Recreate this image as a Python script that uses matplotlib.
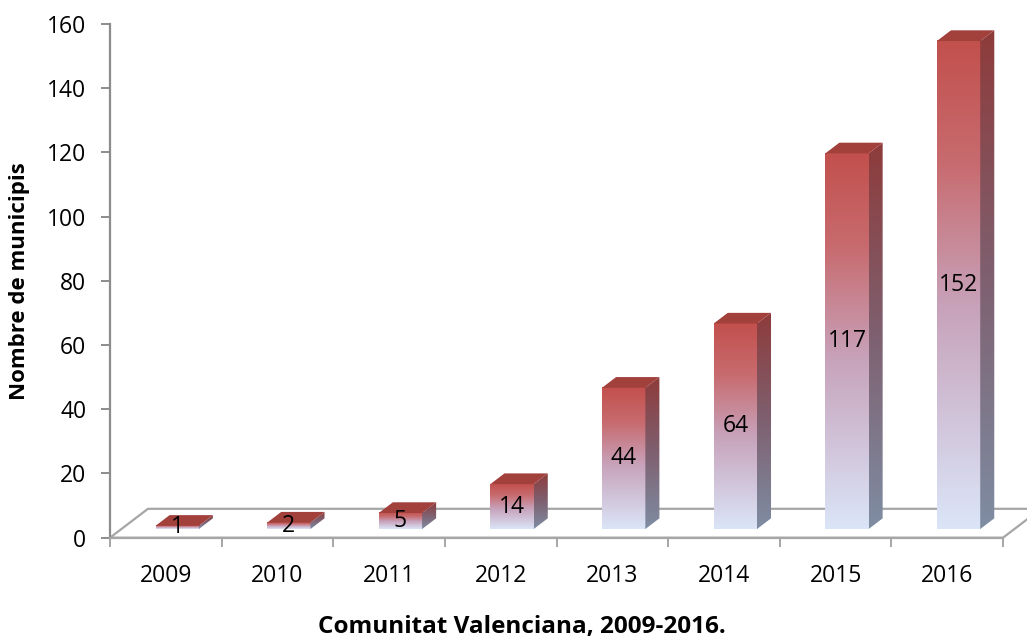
import numpy as np
import matplotlib
matplotlib.use("Agg")
import matplotlib.pyplot as plt
from matplotlib.patches import Polygon
from matplotlib.colors import LinearSegmentedColormap

# Data
years = ["2009", "2010", "2011", "2012", "2013", "2014", "2015", "2016"]
municipis = [1, 2, 5, 14, 44, 64, 117, 152]
y_ticks = [0, 20, 40, 60, 80, 100, 120, 140, 160]

plt.rcParams["font.family"] = ["Open Sans", "DejaVu Sans"]

W_PX, H_PX, DPI = 1027, 640, 100
fig = plt.figure(figsize=(W_PX / DPI, H_PX / DPI), dpi=DPI)
fig.patch.set_facecolor("white")

ax_left, ax_right = 110, 1003
ax_top, ax_bottom = 24, 537.7
ax = fig.add_axes([ax_left / W_PX, (H_PX - ax_bottom) / H_PX,
                   (ax_right - ax_left) / W_PX, (ax_bottom - ax_top) / H_PX])

n = len(years)
XMIN, XMAX, YMIN, YMAX = -0.5, n - 0.5, 0, 160

# oblique projection of the depth axis (in data units)
DX, DY = 0.34, 9.0           # full floor depth
F0, F1 = 0.30, 0.67          # front / back of the bars along the depth
BAR_W = 0.388

grey = "#8c8c8c"
floor_grey = "#a6a6a6"

# floor
floor = Polygon([(XMIN, 0), (XMAX, 0), (XMAX + DX, DY), (XMIN + DX, DY)],
                closed=True, facecolor="white", edgecolor=floor_grey,
                linewidth=1.6, clip_on=False, zorder=1)
ax.add_patch(floor)

front_cmap = LinearSegmentedColormap.from_list(
    "front", [(0.0, "#dbe5f8"), (0.45, "#c7a3bb"), (0.75, "#c86b6f"), (1.0, "#c2504d")])
side_cmap = LinearSegmentedColormap.from_list(
    "side", [(0.0, "#7f8da3"), (0.5, "#7e6070"), (1.0, "#8e3b3a")])
top_color = "#a2403c"

grad = np.linspace(0, 1, 256).reshape(-1, 1)

for i, v in enumerate(municipis):
    x0 = i - BAR_W / 2 + F0 * DX
    y0 = F0 * DY
    bx = (F1 - F0) * DX
    by = (F1 - F0) * DY
    z = 3 + i * 0.01

    # front face
    ax.imshow(grad, cmap=front_cmap, origin="lower", aspect="auto",
              extent=(x0, x0 + BAR_W, y0, y0 + v), interpolation="bilinear",
              zorder=z)

    # side face
    side = Polygon([(x0 + BAR_W, y0), (x0 + BAR_W + bx, y0 + by),
                    (x0 + BAR_W + bx, y0 + v + by), (x0 + BAR_W, y0 + v)],
                   closed=True, facecolor="none", edgecolor="none")
    ax.add_patch(side)
    im = ax.imshow(grad, cmap=side_cmap, origin="lower", aspect="auto",
                   extent=(x0 + BAR_W, x0 + BAR_W + bx, y0, y0 + v + by),
                   interpolation="bilinear", zorder=z)
    im.set_clip_path(side)

    # top face
    top = Polygon([(x0, y0 + v), (x0 + BAR_W, y0 + v),
                   (x0 + BAR_W + bx, y0 + v + by), (x0 + bx, y0 + v + by)],
                  closed=True, facecolor=top_color, edgecolor="none", zorder=z)
    ax.add_patch(top)

    # value label on the front face
    ax.text(x0 + BAR_W / 2, y0 + v / 2, str(v), ha="center", va="center",
            fontsize=16.5, color="black", zorder=10)

ax.set_xlim(XMIN, XMAX)
ax.set_ylim(YMIN, YMAX)

for s in ["top", "right"]:
    ax.spines[s].set_visible(False)
for s in ["left", "bottom"]:
    ax.spines[s].set_color(grey)
    ax.spines[s].set_linewidth(1.6)
ax.spines["bottom"].set_color(floor_grey)

ax.set_yticks(y_ticks)
ax.set_yticklabels([str(t) for t in y_ticks])
ax.tick_params(axis="y", direction="out", length=6.5, width=1.4, color=grey,
               labelsize=16.5, pad=10.5)

# category boundaries carry the tick marks, centres carry the labels
ax.set_xticks(np.arange(XMIN, XMAX + 0.01, 1.0))
ax.set_xticklabels([])
ax.set_xticks(np.arange(n), minor=True)
ax.set_xticklabels(years, minor=True)
ax.tick_params(axis="x", which="major", direction="out", length=6.5,
               width=1.4, color=floor_grey)
ax.tick_params(axis="x", which="minor", length=0, labelsize=16.5, pad=19)

ax.set_facecolor("none")

fig.text(20 / W_PX, 1 - 281 / H_PX, "Nombre de municipis", rotation=90,
         ha="center", va="center", fontsize=16, fontweight="bold")
fig.text(522 / W_PX, 1 - 627 / H_PX, "Comunitat Valenciana, 2009-2016.",
         ha="center", va="center", fontsize=17.5, fontweight="bold")

fig.savefig("out.png", dpi=DPI, facecolor="white")
